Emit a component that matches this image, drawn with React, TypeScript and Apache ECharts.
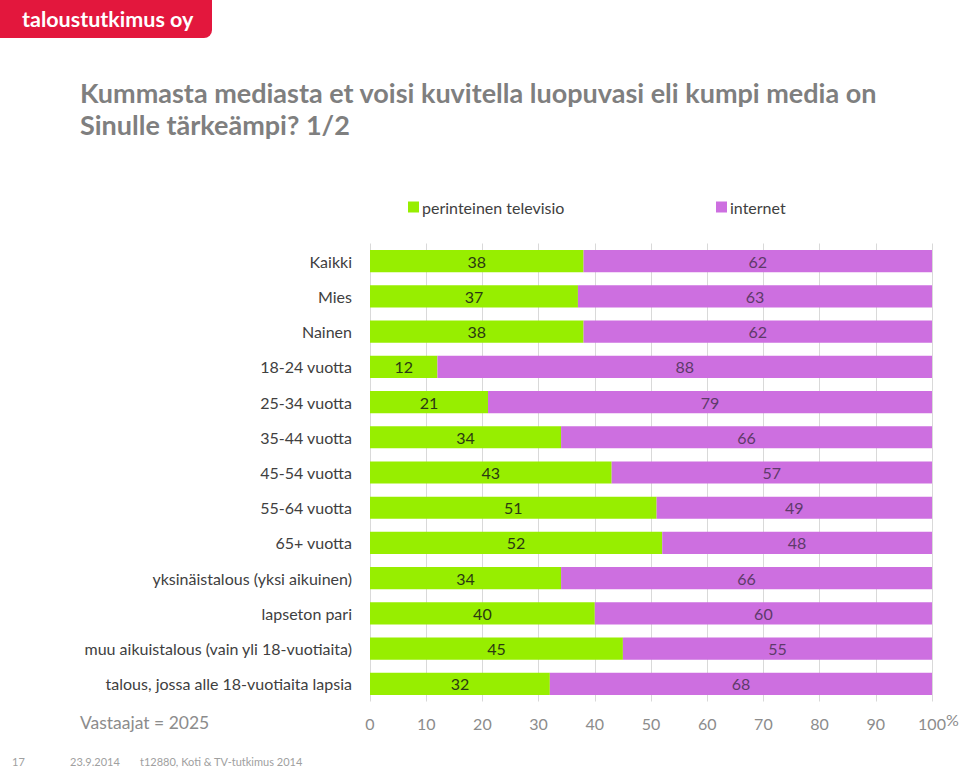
import React, { useEffect, useRef } from "react";
import * as echarts from "echarts";

const categories = [
  "Kaikki",
  "Mies",
  "Nainen",
  "18-24 vuotta",
  "25-34 vuotta",
  "35-44 vuotta",
  "45-54 vuotta",
  "55-64 vuotta",
  "65+ vuotta",
  "yksinäistalous (yksi aikuinen)",
  "lapseton pari",
  "muu aikuistalous (vain yli 18-vuotiaita)",
  "talous, jossa alle 18-vuotiaita lapsia",
];
const tvValues = [38, 37, 38, 12, 21, 34, 43, 51, 52, 34, 40, 45, 32];
const internetValues = [62, 63, 62, 88, 79, 66, 57, 49, 48, 66, 60, 55, 68];
const seriesNames = ["perinteinen televisio", "internet"];
const xTicks = [0, 10, 20, 30, 40, 50, 60, 70, 80, 90, 100];

const FONT = "Lato, 'Open Sans', sans-serif";
const GREEN = "#97EE00";
const PURPLE = "#CD6FE0";

export default function App() {
  const ref = useRef<HTMLDivElement>(null);
  useEffect(() => {
    if (!ref.current) return;
    const chart = echarts.init(ref.current, undefined, { renderer: "svg" });
    chart.setOption({
      animation: false,
      backgroundColor: "#ffffff",
      textStyle: { fontFamily: FONT },
      grid: { left: 370, right: 28, top: 243.5, bottom: 68.5, containLabel: false },
      legend: [
        {
          data: [seriesNames[0]],
          left: 403,
          top: 194,
          itemWidth: 11,
          itemHeight: 11,
          icon: "rect",
          textStyle: { fontFamily: FONT, fontSize: 16, color: "#404040", padding: [0, 0, 0, -2] },
        },
        {
          data: [seriesNames[1]],
          left: 711,
          top: 194,
          itemWidth: 11,
          itemHeight: 11,
          icon: "rect",
          textStyle: { fontFamily: FONT, fontSize: 16, color: "#404040", padding: [0, 0, 0, -2] },
        },
      ],
      xAxis: {
        type: "value",
        min: 0,
        max: 100,
        interval: 10,
        axisLine: { show: false },
        axisTick: { show: false },
        splitLine: { show: true, lineStyle: { color: "#d9d9d9", width: 1 } },
        axisLabel: {
          fontFamily: FONT,
          fontSize: 16,
          color: "#8c8c8c",
          margin: 14,
          formatter: (v: number) => (xTicks.includes(v) ? String(v) : ""),
        },
      },
      yAxis: {
        type: "category",
        data: categories,
        inverse: true,
        axisLine: { show: false },
        axisTick: { show: false },
        axisLabel: { fontFamily: FONT, fontSize: 16, color: "#404040", margin: 18 },
      },
      series: [
        {
          name: seriesNames[0],
          type: "bar",
          stack: "total",
          data: tvValues,
          barWidth: "63%",
          itemStyle: { color: GREEN },
          label: {
            show: true,
            position: "inside",
            fontFamily: FONT,
            fontSize: 16,
            color: "#2b3a12",
          },
        },
        {
          name: seriesNames[1],
          type: "bar",
          stack: "total",
          data: internetValues,
          barWidth: "63%",
          itemStyle: { color: PURPLE },
          label: {
            show: true,
            position: "inside",
            fontFamily: FONT,
            fontSize: 16,
            color: "#5e3a6a",
          },
        },
      ],
      graphic: [
        {
          type: "rect",
          shape: { x: 0, y: 0, width: 212, height: 38, r: [0, 0, 8, 0] },
          style: { fill: "#E3173D" },
        },
        {
          type: "text",
          x: 22,
          y: 19,
          style: {
            text: "taloustutkimus oy",
            fill: "#ffffff",
            font: `bold 21.5px ${FONT}`,
            textVerticalAlign: "middle",
          },
        },
        {
          type: "text",
          x: 80,
          y: 76,
          style: {
            text: "Kummasta mediasta et voisi kuvitella luopuvasi eli kumpi media on\nSinulle tärkeämpi? 1/2",
            fill: "#7f7f7f",
            font: `bold 27px ${FONT}`,
            lineHeight: 32,
          },
        },
        {
          type: "text",
          x: 946,
          y: 711,
          style: { text: "%", fill: "#8c8c8c", font: `16px ${FONT}` },
        },
        {
          type: "text",
          x: 80,
          y: 713,
          style: { text: "Vastaajat = 2025", fill: "#8c8c8c", font: `17.5px ${FONT}` },
        },
        {
          type: "text",
          x: 12,
          y: 756,
          style: { text: "17", fill: "#a0a0a0", font: `11px ${FONT}` },
        },
        {
          type: "text",
          x: 70,
          y: 756,
          style: { text: "23.9.2014", fill: "#a0a0a0", font: `11px ${FONT}` },
        },
        {
          type: "text",
          x: 140,
          y: 756,
          style: { text: "t12880, Koti & TV-tutkimus 2014", fill: "#a0a0a0", font: `11px ${FONT}` },
        },
      ],
    });
    return () => chart.dispose();
  }, []);
  return (
    <div
      ref={ref}
      style={{ position: "absolute", left: 0, top: 0, width: 960, height: 770 }}
    />
  );
}
